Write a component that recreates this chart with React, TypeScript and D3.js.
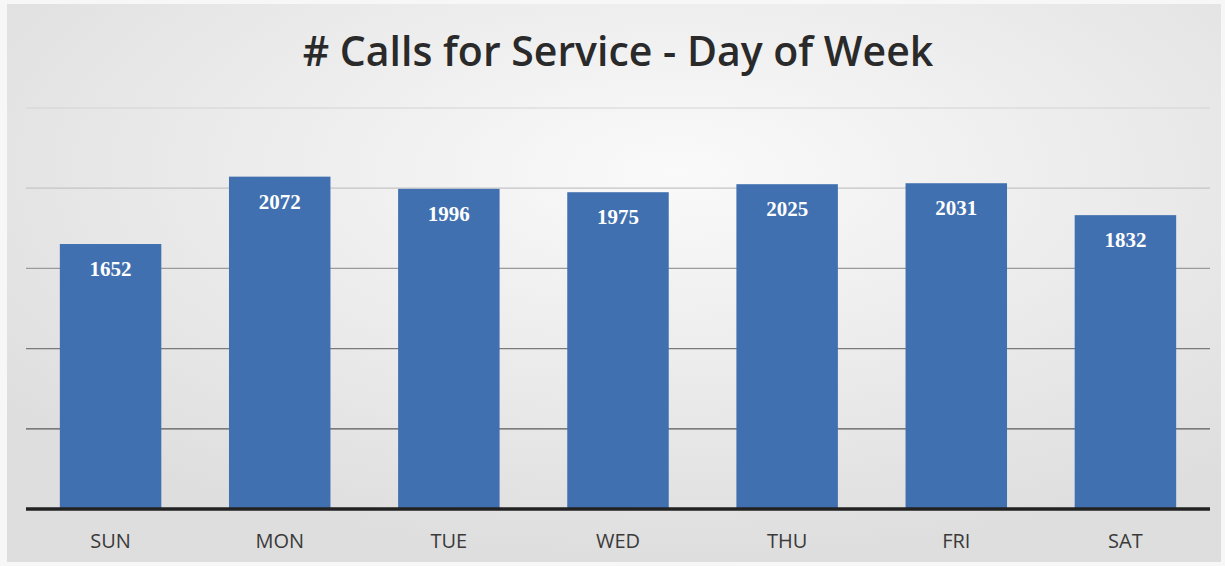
import React from "react";
import * as d3 from "d3";

const days = ["SUN", "MON", "TUE", "WED", "THU", "FRI", "SAT"];
const calls = [1652, 2072, 1996, 1975, 2025, 2031, 1832];
const gridTicks = [500, 1000, 1500, 2000, 2500];
const title = "# Calls for Service - Day of Week";

const W = 1225;
const H = 566;
const left = 26;
const right = 1210;
const baseY = 509;
const topY = 108;

export default function App() {
  const x = d3.scaleBand<string>().domain(days).range([left, right]).paddingInner(0.4).paddingOuter(0.2);
  const y = d3.scaleLinear().domain([0, 2500]).range([baseY, topY]);
  const gridColors = ["#5a5a5a", "#7a7a7a", "#9a9a9a", "#c4c4c4", "#d4d4d4"];
  return (
    <svg width={W} height={H} style={{ position: "absolute", left: 0, top: 0 }}>
      <defs>
        <radialGradient id="bg" cx="0.55" cy="0.3" r="0.7">
          <stop offset="0" stopColor="#fafafa" />
          <stop offset="0.5" stopColor="#ececec" />
          <stop offset="1" stopColor="#dedede" />
        </radialGradient>
      </defs>
      <rect x={0} y={0} width={W} height={H} fill="#f7f7f7" />
      <rect x={7} y={4} width={1214} height={558} fill="url(#bg)" />
      <text
        x={618}
        y={66}
        textAnchor="middle"
        fontFamily="'Open Sans', sans-serif"
        fontWeight={600}
        fontSize={41}
        fill="#2a2a2a"
      >
        {title}
      </text>
      {gridTicks.map((t, i) => (
        <line key={t} x1={left} x2={right} y1={y(t)} y2={y(t)} stroke={gridColors[i]} strokeWidth={1.2} />
      ))}
      {days.map((d, i) => (
        <g key={d}>
          <rect x={x(d)} y={y(calls[i])} width={x.bandwidth()} height={baseY - y(calls[i])} fill="#4170b0" />
          <text
            x={(x(d) as number) + x.bandwidth() / 2}
            y={y(calls[i]) + 32}
            textAnchor="middle"
            fontFamily="'Liberation Serif', serif"
            fontWeight="bold"
            fontSize={21}
            fill="#ffffff"
          >
            {calls[i]}
          </text>
          <text
            x={(x(d) as number) + x.bandwidth() / 2}
            y={548}
            textAnchor="middle"
            fontFamily="'Open Sans', sans-serif"
            fontSize={20}
            fill="#3a3a3a"
          >
            {d}
          </text>
        </g>
      ))}
      <line x1={left} x2={right} y1={baseY} y2={baseY} stroke="#222222" strokeWidth={3.5} />
    </svg>
  );
}
